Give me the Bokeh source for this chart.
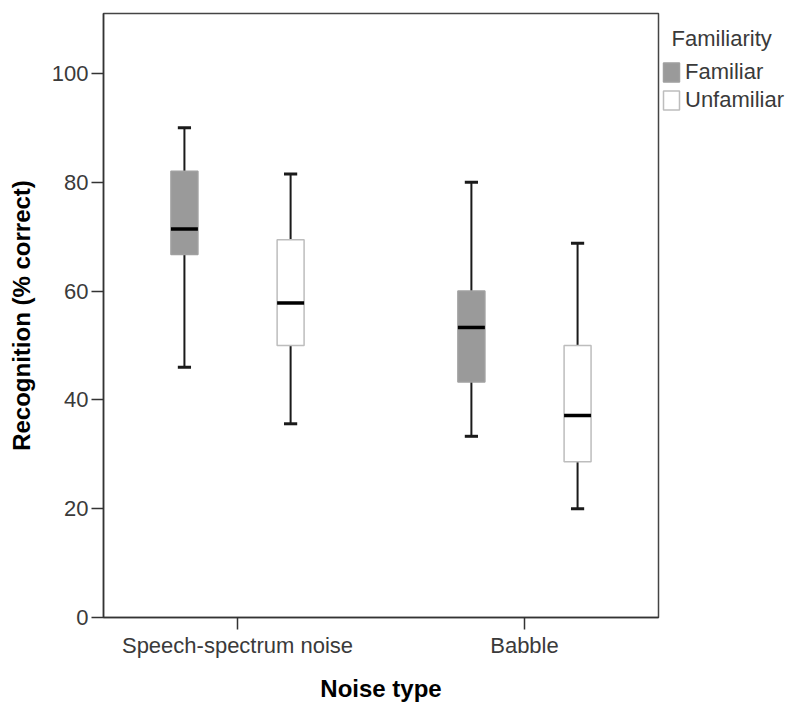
from bokeh.plotting import figure
from bokeh.models import Range1d, FixedTicker, Legend, LegendItem
from bokeh.embed import file_html
from bokeh.resources import INLINE

# ---- data ----
noise_types = ["Speech-spectrum noise", "Babble"]
familiarity = ["Familiar", "Unfamiliar"]

fam_min = [46.0, 33.3]
fam_q1 = [66.7, 43.3]
fam_med = [71.4, 53.3]
fam_q3 = [82.0, 60.0]
fam_max = [90.0, 80.0]

unf_min = [35.6, 20.0]
unf_q1 = [50.0, 28.6]
unf_med = [57.8, 37.1]
unf_q3 = [69.4, 50.0]
unf_max = [81.5, 68.8]

y_ticks = [0, 20, 40, 60, 80, 100]

# ---- layout constants ----
offset = 0.185
box_w = 0.094
cap_w = 0.046
FONT = "Liberation Sans"

p = figure(frame_width=555, frame_height=604,
           x_range=Range1d(-0.467, 1.467), y_range=Range1d(0, 111),
           output_backend="svg", toolbar_location=None,
           min_border_left=103, min_border_top=13, min_border_bottom=83,
           min_border_right=130)
p.xgrid.visible = False
p.ygrid.visible = False
p.outline_line_color = "#444444"
p.outline_line_width = 1.5
p.background_fill_color = "white"
p.border_fill_color = "white"

def draw(idx_shift, mins, q1s, meds, q3s, maxs, fill, line):
    xs = [i + idx_shift for i in range(len(noise_types))]
    # whiskers
    p.segment(x0=xs, y0=q3s, x1=xs, y1=maxs, line_color="#1a1a1a", line_width=2)
    p.segment(x0=xs, y0=mins, x1=xs, y1=q1s, line_color="#1a1a1a", line_width=2)
    # caps
    p.segment(x0=[x - cap_w / 2 for x in xs], y0=maxs, x1=[x + cap_w / 2 for x in xs], y1=maxs,
              line_color="#1a1a1a", line_width=3)
    p.segment(x0=[x - cap_w / 2 for x in xs], y0=mins, x1=[x + cap_w / 2 for x in xs], y1=mins,
              line_color="#1a1a1a", line_width=3)
    r = p.vbar(x=xs, width=box_w, bottom=q1s, top=q3s, fill_color=fill,
               line_color=line, line_width=1.5)
    p.segment(x0=[x - box_w / 2 for x in xs], y0=meds, x1=[x + box_w / 2 for x in xs], y1=meds,
              line_color="black", line_width=3.5)
    return r

r_fam = draw(-offset, fam_min, fam_q1, fam_med, fam_q3, fam_max, "#9a9a9a", "#a0a0a0")
r_unf = draw(offset, unf_min, unf_q1, unf_med, unf_q3, unf_max, "white", "#bdbdbd")

# axes
p.xaxis.ticker = FixedTicker(ticks=list(range(len(noise_types))))
p.xaxis.major_label_overrides = {i: n for i, n in enumerate(noise_types)}
p.yaxis.ticker = FixedTicker(ticks=y_ticks)
for ax in (p.xaxis[0], p.yaxis[0]):
    ax.minor_tick_line_color = None
    ax.major_tick_in = 0
    ax.major_tick_out = 12
    ax.major_tick_line_color = "#333333"
    ax.major_tick_line_width = 1.5
    ax.axis_line_color = "#333333"
    ax.axis_line_width = 1.5
    ax.major_label_text_font = FONT
    ax.major_label_text_font_size = "22px"
    ax.major_label_text_color = "#3a3a3a"
    ax.axis_label_text_font = FONT
    ax.axis_label_text_font_size = "24px"
    ax.axis_label_text_font_style = "bold"
    ax.axis_label_text_color = "black"

p.xaxis.axis_label = "Noise type"
p.yaxis.axis_label = "Recognition (% correct)"
p.xaxis.major_label_standoff = 3
p.yaxis.major_label_standoff = 3
p.xaxis.axis_label_standoff = 14
p.yaxis.axis_label_standoff = 14

legend = Legend(items=[LegendItem(label=familiarity[0], renderers=[r_fam]),
                       LegendItem(label=familiarity[1], renderers=[r_unf])],
                location=(3, 504))
legend.title = "\u00a0\u2009Familiarity"
legend.title_text_font = FONT
legend.title_text_font_size = "22px"
legend.title_text_font_style = "normal"
legend.title_text_color = "#3a3a3a"
legend.title_standoff = 7
legend.label_text_font = FONT
legend.label_text_font_size = "22px"
legend.label_text_color = "#3a3a3a"
legend.glyph_width = 20
legend.glyph_height = 24
legend.label_standoff = 4
legend.label_height = 22
legend.spacing = 2
legend.padding = 0
legend.margin = 0
legend.border_line_alpha = 0
legend.background_fill_alpha = 0
p.add_layout(legend, "right")

open("out.html", "w").write(file_html(p, INLINE))
